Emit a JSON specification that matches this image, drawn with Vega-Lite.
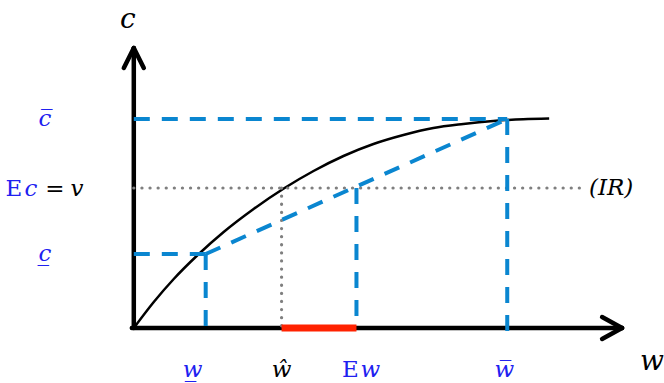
{
  "$schema": "https://vega.github.io/schema/vega-lite/v6.json",
  "width": 664,
  "height": 383,
  "autosize": {"type": "fit", "contains": "padding"},
  "padding": 0,
  "background": "white",
  "config": {"view": {"stroke": null}},
  "datasets": {
    "curve": [
      {"w": 0, "c": 0}, {"w": 20, "c": 26}, {"w": 40, "c": 49}, {"w": 64, "c": 73},
      {"w": 90, "c": 96}, {"w": 120, "c": 119}, {"w": 151, "c": 140}, {"w": 180, "c": 157},
      {"w": 210, "c": 172}, {"w": 240, "c": 184}, {"w": 270, "c": 193}, {"w": 300, "c": 200},
      {"w": 330, "c": 204}, {"w": 360, "c": 207}, {"w": 390, "c": 208.8}, {"w": 416, "c": 209.5}
    ],
    "segs": [
      {"type": "axis", "w": 0, "c": 0, "w2": 0, "c2": 280},
      {"type": "axis", "w": -2, "c": 0, "w2": 489, "c2": 0},
      {"type": "axis", "w": 0, "c": 280, "w2": -10, "c2": 260},
      {"type": "axis", "w": 0, "c": 280, "w2": 10, "c2": 260},
      {"type": "axis", "w": 489, "c": 0, "w2": 469, "c2": 11},
      {"type": "axis", "w": 489, "c": 0, "w2": 469, "c2": -11},
      {"type": "dash", "w": 0, "c": 209, "w2": 374, "c2": 209},
      {"type": "dash", "w": 374, "c": 209, "w2": 374, "c2": -15},
      {"type": "dash", "w": 0, "c": 74, "w2": 72, "c2": 74},
      {"type": "dash", "w": 72, "c": 74, "w2": 72, "c2": 0},
      {"type": "dash", "w": 72, "c": 74, "w2": 374, "c2": 209},
      {"type": "dash", "w": 223, "c": 140, "w2": 223, "c2": 0},
      {"type": "dot", "w": 0, "c": 140, "w2": 451, "c2": 140},
      {"type": "dot", "w": 148, "c": 140, "w2": 148, "c2": 0},
      {"type": "red", "w": 148, "c": 0, "w2": 223, "c2": 0}
    ],
    "texts": [
      {"t": "c\u0305", "w": -89, "c": 209, "col": "#2020F0", "it": true, "sz": 23},
      {"t": "c\u0332", "w": -89, "c": 74, "col": "#2020F0", "it": true, "sz": 23},
      {"t": "E", "w": -120, "c": 139, "col": "#2020F0", "it": false, "sz": 23},
      {"t": "c", "w": -103, "c": 139, "col": "#2020F0", "it": true, "sz": 23},
      {"t": "=", "w": -79, "c": 139, "col": "#000000", "it": false, "sz": 23},
      {"t": "v", "w": -57, "c": 139, "col": "#000000", "it": true, "sz": 23},
      {"t": "w\u0332", "w": 59, "c": -42, "col": "#2020F0", "it": true, "sz": 23},
      {"t": "\u0175", "w": 148, "c": -42, "col": "#000000", "it": true, "sz": 23},
      {"t": "E", "w": 217, "c": -42, "col": "#2020F0", "it": false, "sz": 23},
      {"t": "w", "w": 237, "c": -42, "col": "#2020F0", "it": true, "sz": 23},
      {"t": "w\u0305", "w": 371, "c": -42, "col": "#2020F0", "it": true, "sz": 23},
      {"t": "w", "w": 519, "c": -34, "col": "#000000", "it": true, "sz": 28},
      {"t": "c", "w": -6, "c": 308, "col": "#000000", "it": true, "sz": 28},
      {"t": "(IR)", "w": 478, "c": 140, "col": "#000000", "it": true, "sz": 23}
    ]
  },
  "encoding": {},
  "layer": [
    {
      "data": {"name": "segs"},
      "transform": [{"filter": "datum.type === 'axis'"}],
      "mark": {"type": "rule", "color": "#000000", "strokeWidth": 4.5, "strokeCap": "round"},
      "encoding": {
        "x": {"field": "w", "type": "quantitative", "scale": {"domain": [-134, 530], "nice": false, "zero": false}, "axis": null},
        "y": {"field": "c", "type": "quantitative", "scale": {"domain": [-55, 328], "nice": false, "zero": false}, "axis": null},
        "x2": {"field": "w2"},
        "y2": {"field": "c2"}
      }
    },
    {
      "data": {"name": "curve"},
      "mark": {"type": "line", "color": "#000000", "strokeWidth": 2.5, "interpolate": "monotone"},
      "encoding": {
        "x": {"field": "w", "type": "quantitative"},
        "y": {"field": "c", "type": "quantitative"}
      }
    },
    {
      "data": {"name": "segs"},
      "transform": [{"filter": "datum.type === 'dot'"}],
      "mark": {"type": "rule", "color": "#7f7f7f", "strokeWidth": 3.2, "strokeCap": "round", "strokeDash": [0.1, 8]},
      "encoding": {
        "x": {"field": "w", "type": "quantitative"},
        "y": {"field": "c", "type": "quantitative"},
        "x2": {"field": "w2"},
        "y2": {"field": "c2"}
      }
    },
    {
      "data": {"name": "segs"},
      "transform": [{"filter": "datum.type === 'dash'"}],
      "mark": {"type": "rule", "color": "#0A86D0", "strokeWidth": 4, "strokeDash": [16, 12]},
      "encoding": {
        "x": {"field": "w", "type": "quantitative"},
        "y": {"field": "c", "type": "quantitative"},
        "x2": {"field": "w2"},
        "y2": {"field": "c2"}
      }
    },
    {
      "data": {"name": "segs"},
      "transform": [{"filter": "datum.type === 'red'"}],
      "mark": {"type": "rule", "color": "#FF2200", "strokeWidth": 7},
      "encoding": {
        "x": {"field": "w", "type": "quantitative"},
        "y": {"field": "c", "type": "quantitative"},
        "x2": {"field": "w2"},
        "y2": {"field": "c2"}
      }
    },
    {
      "data": {"name": "texts"},
      "transform": [{"filter": "datum.it"}],
      "mark": {"type": "text", "font": "DejaVu Serif", "fontStyle": "italic", "align": "center", "baseline": "middle"},
      "encoding": {
        "x": {"field": "w", "type": "quantitative"},
        "y": {"field": "c", "type": "quantitative"},
        "text": {"field": "t"},
        "color": {"field": "col", "type": "nominal", "scale": null},
        "size": {"field": "sz", "type": "quantitative", "scale": null}
      }
    },
    {
      "data": {"name": "texts"},
      "transform": [{"filter": "!datum.it"}],
      "mark": {"type": "text", "font": "DejaVu Serif", "align": "center", "baseline": "middle"},
      "encoding": {
        "x": {"field": "w", "type": "quantitative"},
        "y": {"field": "c", "type": "quantitative"},
        "text": {"field": "t"},
        "color": {"field": "col", "type": "nominal", "scale": null},
        "size": {"field": "sz", "type": "quantitative", "scale": null}
      }
    }
  ]
}
